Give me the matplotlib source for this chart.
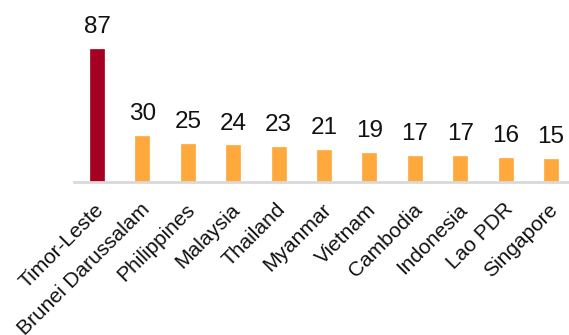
import matplotlib
matplotlib.use("Agg")
import matplotlib.pyplot as plt
from matplotlib.transforms import ScaledTranslation

categories = ["Timor-Leste", "Brunei Darussalam", "Philippines", "Malaysia", "Thailand",
              "Myanmar", "Vietnam", "Cambodia", "Indonesia", "Lao PDR", "Singapore"]
values = [87, 30, 25, 24, 23, 21, 19, 17, 17, 16, 15]
colors = ["#A50021"] + ["#FFA93C"] * 10

plt.rcParams['font.family'] = ['Liberation Sans', 'DejaVu Sans']

fig = plt.figure(figsize=(5.69, 3.35), dpi=100)
W, H = 569, 335
left = 74.3 / W
width = (573.7 - 74.3) / W
bottom = (H - 182) / H
ymax = 100
height = ymax * 1.529 / H
ax = fig.add_axes([left, bottom, width, height])

x = list(range(len(categories)))
ax.bar(x, values, width=0.31, color=colors, edgecolor=colors, linewidth=0.5)
for xi, v in zip(x, values):
    ax.text(xi, v + 10.3, str(v), ha='center', va='baseline', fontsize=17.5, color='#111111')

ax.set_xlim(-0.5, 10.5)
ax.set_ylim(0, ymax)
for s in ['top', 'right', 'left']:
    ax.spines[s].set_visible(False)
ax.spines['bottom'].set_color('#D9D9D9')
ax.spines['bottom'].set_linewidth(2)
ax.set_yticks([])
ax.set_xticks(x)
ax.set_xticklabels(categories, rotation=45, ha='right', va='baseline', rotation_mode='anchor',
                   fontsize=15, color='#111111')
ax.tick_params(axis='x', length=0, pad=20.5)
off = ScaledTranslation(8 / 100, 0, fig.dpi_scale_trans)
for lab in ax.get_xticklabels():
    lab.set_transform(lab.get_transform() + off)

fig.savefig("out.png", dpi=100)
